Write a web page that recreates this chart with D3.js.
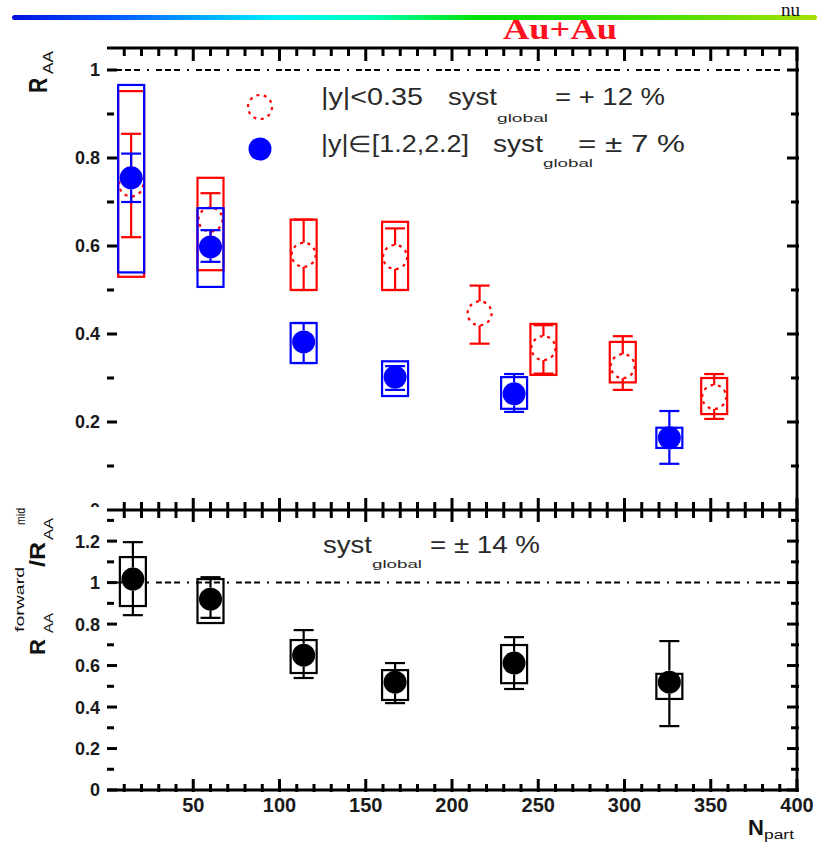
<!DOCTYPE html>
<html><head><meta charset="utf-8">
<script src="https://cdn.jsdelivr.net/npm/d3@7"></script>
<style>body{margin:0;background:#fff}svg{display:block}text{font-family:"Liberation Sans",Arial,sans-serif}</style>
</head><body>
<script>
// ---------------- data ----------------
const xMajorTicks = [50, 100, 150, 200, 250, 300, 350, 400];
const xTickLabels = ["50", "100", "150", "200", "250", "300", "350", "400"];
const xMinorTicks = [10,20,30,40,60,70,80,90,110,120,130,140,160,170,180,190,210,220,230,240,260,270,280,290,310,320,330,340,360,370,380,390];
const yTopTicks = [0, 0.2, 0.4, 0.6, 0.8, 1];
const yTopMinor = [0.1, 0.3, 0.5, 0.7, 0.9];
const yBotTicks = [0, 0.2, 0.4, 0.6, 0.8, 1, 1.2];
const yBotMinor = [0.1, 0.3, 0.5, 0.7, 0.9, 1.1, 1.3];

// mid rapidity |y|<0.35 (red open)
const midNpart = [14, 60, 114, 167, 216, 253, 299, 352];
const midRaa   = [0.74, 0.66, 0.58, 0.575, 0.447, 0.368, 0.327, 0.257];
const midStatHi = [0.855, 0.72, 0.66, 0.64, 0.51, 0.42, 0.395, 0.309];
const midStatLo = [0.62, 0.60, 0.50, 0.50, 0.378, 0.31, 0.273, 0.207];
const midSystHi = [0.952, 0.755, 0.66, 0.655, null, 0.423, 0.382, 0.30];
const midSystLo = [0.53, 0.545, 0.50, 0.50, null, 0.307, 0.29, 0.218];

// forward rapidity |y| in [1.2,2.2] (blue filled)
const fwdNpart = [14, 60, 114, 167, 236, 326];
const fwdRaa   = [0.755, 0.598, 0.382, 0.302, 0.264, 0.164];
const fwdStatHi = [0.81, 0.636, 0.425, 0.327, 0.309, 0.225];
const fwdStatLo = [0.70, 0.564, 0.334, 0.273, 0.223, 0.105];
const fwdSystHi = [0.966, 0.686, 0.425, 0.338, 0.302, 0.187];
const fwdSystLo = [0.54, 0.507, 0.334, 0.259, 0.23, 0.141];

// ratio forward / mid (black)
const ratNpart = [15, 60, 114, 167, 236, 326];
const ratVal   = [1.017, 0.92, 0.65, 0.52, 0.612, 0.52];
const ratStatHi = [1.195, 1.026, 0.771, 0.612, 0.737, 0.718];
const ratStatLo = [0.843, 0.83, 0.54, 0.419, 0.487, 0.308];
const ratSystHi = [1.123, 1.017, 0.723, 0.578, 0.699, 0.56];
const ratSystLo = [0.887, 0.805, 0.564, 0.434, 0.515, 0.439];

// ---------------- drawing ----------------
const svg = d3.select("body").append("svg").attr("width", 817).attr("height", 842);
const x = d3.scaleLinear().domain([0, 400]).range([107, 797]);
const yTop = d3.scaleLinear().domain([0, 1.05]).range([510, 48]);
const yBot = d3.scaleLinear().domain([0, 1.35]).range([790, 510]);
const fmt = d3.format("~g");

// header gradient bar
const defs = svg.append("defs");
const grad = defs.append("linearGradient").attr("id", "hdr").attr("x1", "0%").attr("x2", "100%");
[["0%", "#0010e0"], ["14%", "#0060ff"], ["33%", "#00f0ff"], ["45%", "#00ffb0"], ["58%", "#00e000"], ["80%", "#40e000"], ["100%", "#a8e000"]]
  .forEach(([o, c]) => grad.append("stop").attr("offset", o).attr("stop-color", c));
svg.append("rect").attr("x", 12).attr("y", 15).attr("width", 805).attr("height", 5).attr("rx", 2.5).attr("fill", "url(#hdr)");
svg.append("text").attr("x", 781).attr("y", 16).attr("font-size", 19).style("font-family", "'Liberation Serif',serif").attr("fill", "#111").text("nu");
svg.append("text").attr("x", 503).attr("y", 39).attr("font-size", 29).attr("font-weight", "bold")
  .style("font-family", "'Liberation Serif',serif").attr("fill", "#ff1020")
  .attr("textLength", 114).attr("lengthAdjust", "spacingAndGlyphs").text("Au+Au");

const dashPat = "2,7,6,3,6,3,6,7";
svg.append("line").attr("x1", x(0)).attr("x2", x(400)).attr("y1", yTop(1)).attr("y2", yTop(1))
  .attr("stroke", "#000").attr("stroke-width", 2).attr("stroke-dasharray", dashPat);

svg.append("g").selectAll("text").data(yTopTicks).join("text")
  .attr("x", 100).attr("y", d => yTop(d)).attr("dy", "0.36em").attr("text-anchor", "end")
  .attr("font-size", 18).attr("font-weight", "bold").attr("fill", "#1a1a1a").text(d => fmt(d));

const tt = svg.append("g").attr("transform", "translate(47,93) scale(1.25,1) rotate(-90)");
tt.append("text").attr("x", 0).attr("y", 0).attr("font-size", 21).attr("font-weight", "bold").attr("fill", "#111").text("R");
tt.append("text").attr("x", 19).attr("y", 5).attr("font-size", 12).attr("fill", "#111")
  .attr("textLength", 23).attr("lengthAdjust", "spacingAndGlyphs").text("AA");

function drawSeries(ys, xs, vals, hi, lo, shi, slo, color, filled, r) {
  const g = svg.append("g");
  xs.forEach((n, i) => {
    if (shi[i] == null) return;
    g.append("rect").attr("x", x(n) - 13).attr("y", ys(shi[i])).attr("width", 26)
      .attr("height", ys(slo[i]) - ys(shi[i])).attr("fill", "none").attr("stroke", color).attr("stroke-width", 2.2);
  });
  xs.forEach((n, i) => {
    const cx = x(n), cy = ys(vals[i]);
    const yh = ys(hi[i]), yl = ys(lo[i]);
    if (cy - r > yh) g.append("line").attr("x1", cx).attr("x2", cx).attr("y1", cy - r).attr("y2", yh).attr("stroke", color).attr("stroke-width", 2.2);
    if (cy + r < yl) g.append("line").attr("x1", cx).attr("x2", cx).attr("y1", cy + r).attr("y2", yl).attr("stroke", color).attr("stroke-width", 2.2);
    [yh, yl].forEach(yy => g.append("line").attr("x1", cx - 10).attr("x2", cx + 10).attr("y1", yy).attr("y2", yy).attr("stroke", color).attr("stroke-width", 2.2));
  });
  xs.forEach((n, i) => {
    const c = g.append("circle").attr("cx", x(n)).attr("cy", ys(vals[i])).attr("r", r);
    if (filled) c.attr("fill", color);
    else c.attr("fill", "none").attr("stroke", color).attr("stroke-width", 2.2).attr("stroke-dasharray", "3,4.5");
  });
}
drawSeries(yTop, midNpart, midRaa, midStatHi, midStatLo, midSystHi, midSystLo, "#ff0000", false, 12);
drawSeries(yTop, fwdNpart, fwdRaa, fwdStatHi, fwdStatLo, fwdSystHi, fwdSystLo, "#0000ff", true, 11.5);

svg.append("circle").attr("cx", 260).attr("cy", 107).attr("r", 12).attr("fill", "none").attr("stroke", "#ff0000")
  .attr("stroke-width", 2.2).attr("stroke-dasharray", "3,4.5");
svg.append("circle").attr("cx", 260).attr("cy", 149).attr("r", 11.5).attr("fill", "#0000ff");
function txt(str, xx, yy, size, len) {
  const e = svg.append("text").attr("x", xx).attr("y", yy).attr("font-size", size).attr("fill", "#2a2a2a").text(str);
  if (len) e.attr("textLength", len).attr("lengthAdjust", "spacingAndGlyphs");
  return e;
}
txt("|y|<0.35", 321, 105, 23, 102);
txt("syst", 448, 105, 23, 49);
txt("global", 497, 122, 11, 51);
txt("= + 12 %", 555, 105, 23, 110);
txt("|y|\u2208[1.2,2.2]", 321, 152, 23, 148);
txt("syst", 493, 152, 23, 50);
txt("global", 543, 167, 11, 50);
txt("= \u00b1 7 %", 578, 152, 23, 107);

svg.append("rect").attr("x", 0).attr("y", 507).attr("width", 106).attr("height", 335).attr("fill", "#fff");

svg.append("g").selectAll("text").data(yBotTicks).join("text")
  .attr("x", 100).attr("y", d => yBot(d)).attr("dy", "0.36em").attr("text-anchor", "end")
  .attr("font-size", 18).attr("font-weight", "bold").attr("fill", "#1a1a1a").text(d => fmt(d));
svg.append("g").selectAll("text").data(xMajorTicks).join("text")
  .attr("x", d => x(d)).attr("y", 812).attr("text-anchor", "middle")
  .attr("font-size", 20).attr("font-weight", "bold").attr("fill", "#1a1a1a").text((d, i) => xTickLabels[i]);

svg.append("line").attr("x1", x(0)).attr("x2", x(400)).attr("y1", yBot(1)).attr("y2", yBot(1))
  .attr("stroke", "#000").attr("stroke-width", 2).attr("stroke-dasharray", dashPat);

drawSeries(yBot, ratNpart, ratVal, ratStatHi, ratStatLo, ratSystHi, ratSystLo, "#000000", true, 11.5);

txt("syst", 323, 553, 23, 49);
txt("global", 372, 568, 11, 50);
txt("= \u00b1 14 %", 430, 553, 23, 110);

const tb = svg.append("g").attr("transform", "translate(45,655) rotate(-90)");
tb.append("text").attr("x", 0).attr("y", 0).attr("font-size", 22).attr("font-weight", "bold").attr("fill", "#111").text("R");
tb.append("text").attr("x", 22).attr("y", 8).attr("font-size", 12).attr("fill", "#111").attr("textLength", 20).attr("lengthAdjust", "spacingAndGlyphs").text("AA");
tb.append("text").attr("x", 23).attr("y", -21).attr("font-size", 13).attr("fill", "#111").attr("textLength", 65).attr("lengthAdjust", "spacingAndGlyphs").text("forward");
tb.append("text").attr("x", 88).attr("y", 0).attr("font-size", 22).attr("font-weight", "bold").attr("fill", "#111").attr("textLength", 25).attr("lengthAdjust", "spacingAndGlyphs").text("/R");
tb.append("text").attr("x", 115).attr("y", 8).attr("font-size", 12).attr("fill", "#111").attr("textLength", 22).attr("lengthAdjust", "spacingAndGlyphs").text("AA");
tb.append("text").attr("x", 130).attr("y", -20).attr("font-size", 13).attr("fill", "#111").attr("textLength", 17).attr("lengthAdjust", "spacingAndGlyphs").text("mid");

svg.append("text").attr("x", 748).attr("y", 835).attr("font-size", 22).attr("font-weight", "bold").attr("fill", "#111").text("N");
svg.append("text").attr("x", 764).attr("y", 839).attr("font-size", 12).attr("fill", "#111").attr("textLength", 30).attr("lengthAdjust", "spacingAndGlyphs").text("part");

// ---------- frame, then ticks on top ----------
const frameD = `M${x(0)},48H${x(400) + 1}M${x(0)},510H${x(400) + 1}M${x(0)},790H${x(400) + 1}M${x(400)},47V791`;
svg.append("path").attr("d", frameD).attr("fill", "none").attr("stroke", "#000").attr("stroke-width", 2.8);

const tickColor = "#000";
const tk = svg.append("g");
const TW = 3;
function vT(vals, y0, len) {
  vals.forEach(d => {
    tk.append("rect").attr("x", x(d) - TW / 2).attr("width", TW)
      .attr("y", Math.min(y0, y0 + len)).attr("height", Math.abs(len)).style("fill", tickColor);
  });
}
function hT(vals, sc, x0, len) {
  vals.forEach(d => {
    tk.append("rect").attr("y", sc(d) - TW / 2).attr("height", TW)
      .attr("x", Math.min(x0, x0 + len)).attr("width", Math.abs(len)).style("fill", tickColor);
  });
}
vT(xMajorTicks, 47, 14);  vT(xMinorTicks, 47, 9);
vT(xMajorTicks, 498, 24); vT(xMinorTicks, 502, 16);
vT(xMajorTicks, 792, -13); vT(xMinorTicks, 792, -8);
hT(yTopTicks.filter(d => d > 0), yTop, 107, 10); hT(yTopMinor, yTop, 107, 7);
hT(yBotTicks, yBot, 107, 10); hT(yBotMinor, yBot, 107, 7);
hT(yTopTicks.filter(d => d > 0), yTop, 799, -12); hT(yTopMinor, yTop, 799, -8);
hT(yBotTicks, yBot, 799, -12); hT(yBotMinor, yBot, 799, -8);
</script>
</body></html>
